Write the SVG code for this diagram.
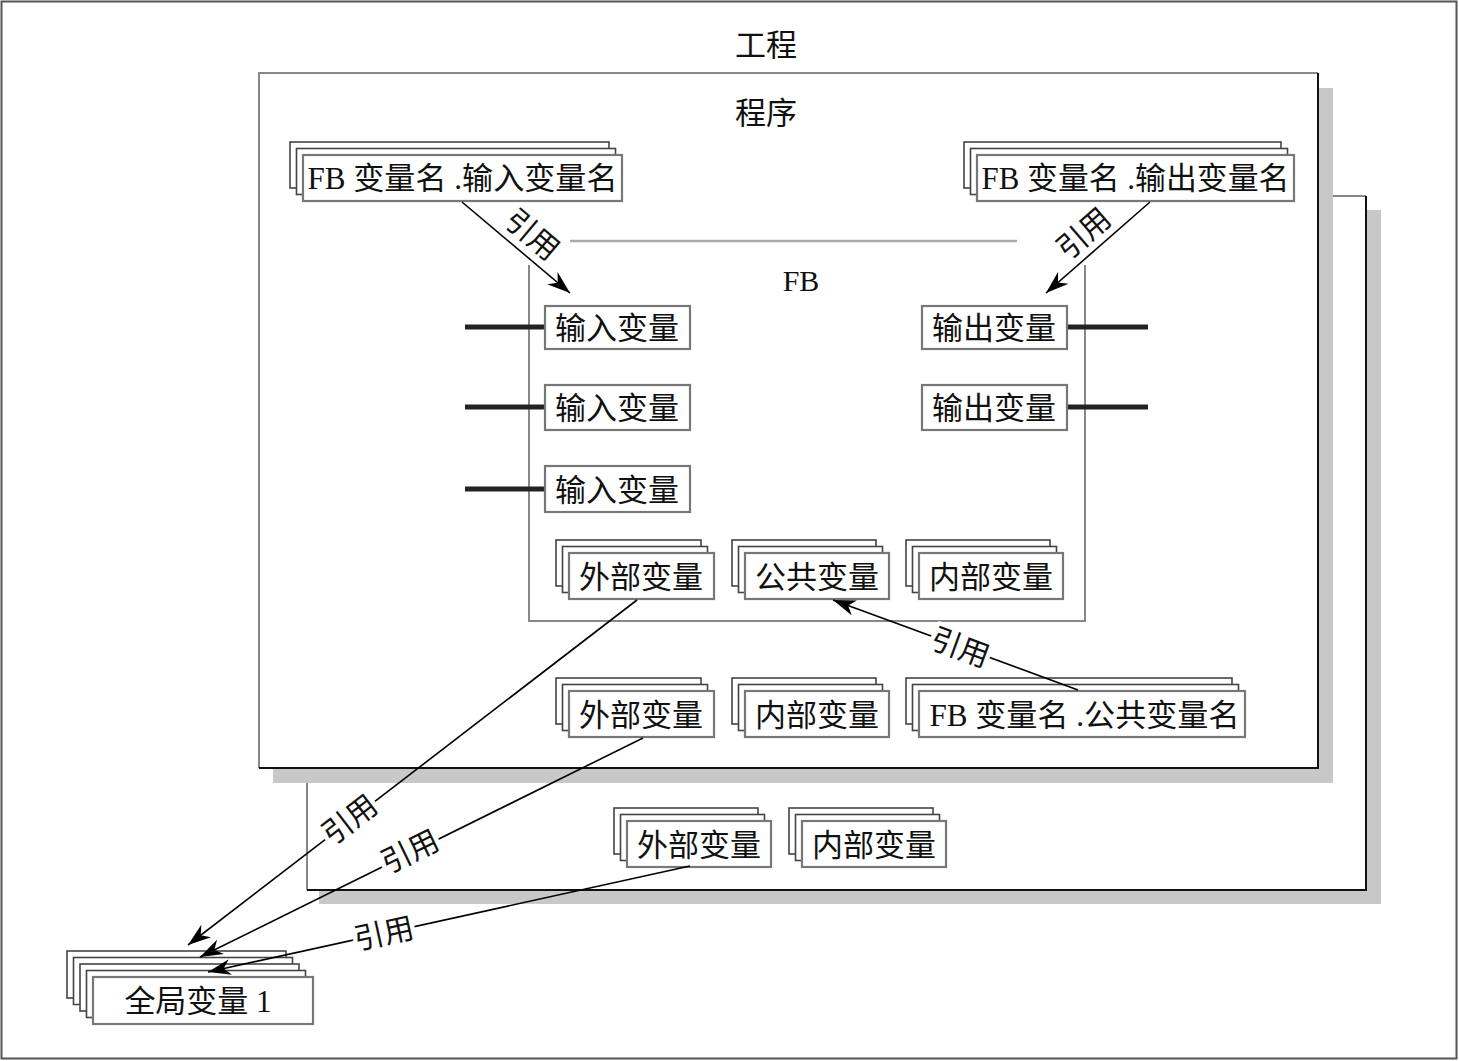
<svg xmlns="http://www.w3.org/2000/svg" width="1459" height="1061" viewBox="0 0 1459 1061">
<style>
text{font-family:"Liberation Serif","Noto Sans CJK SC",serif;fill:#111}
.t{font-size:31px;text-anchor:middle}
.lab{font-size:30px;text-anchor:middle;stroke:#fff;stroke-width:9px;paint-order:stroke;stroke-linejoin:round}
.back{fill:#fff;stroke:#444;stroke-width:1.6}
.front{fill:#fff;stroke:#777;stroke-width:2.2}
.shadow{fill:#c8c8c8}
.gl{stroke:#888;stroke-width:2;fill:none}
.bk{stroke:#111;stroke-width:2;fill:none}
.pin{stroke:#222;stroke-width:5}
.con{stroke:#000;stroke-width:1.6;fill:none}
</style>
<defs>
<marker id="ah" markerUnits="userSpaceOnUse" markerWidth="26" markerHeight="16" refX="23" refY="8" orient="auto">
<path d="M0,0 L23,8 L0,16 L7,8 z" fill="#000"/>
</marker>
</defs>
<rect width="1459" height="1061" fill="#fff"/>
<g id="project">
<rect x="1.5" y="1.5" width="1455" height="1057" fill="none" stroke="#555" stroke-width="2"/>
<text class="t" x="766" y="56">工程</text>
</g>
<g id="program2">
<rect class="shadow" x="319" y="210" width="1062" height="694"/>
<rect x="307" y="196" width="1059" height="694" fill="#fff"/>
<path class="gl" d="M307,890 V196 H1366"/>
<path class="bk" d="M1366,196 V890 H307"/>
</g>
<g id="program1">
<rect class="shadow" x="273" y="88" width="1060" height="695"/>
<rect x="259" y="73" width="1059" height="695" fill="#fff"/>
<path class="gl" d="M259,768 V73 H1318"/>
<path class="bk" d="M1318,73 V768 H259"/>
<text class="t" x="766" y="124">程序</text>
</g>
<g id="fb">
<path d="M529,265 V621 H1085 V265" fill="none" stroke="#888" stroke-width="2"/>
<line x1="570" y1="241" x2="1017" y2="241" stroke="#aaa" stroke-width="2.5"/>
<text x="801" y="291" style="font-size:30px;text-anchor:middle">FB</text>
</g>
<g id="fb-in-name">
<rect class="back" x="290" y="142" width="319" height="46"/>
<rect class="back" x="296.5" y="148.5" width="319" height="46"/>
<rect class="front" x="303" y="155" width="319" height="46"/>
<text class="t" x="462.5" y="189" textLength="310" lengthAdjust="spacingAndGlyphs">FB 变量名 .输入变量名</text>
</g>
<g id="fb-out-name">
<rect class="back" x="964" y="142" width="317" height="46"/>
<rect class="back" x="970.5" y="148.5" width="317" height="46"/>
<rect class="front" x="977" y="155" width="317" height="46"/>
<text class="t" x="1135.5" y="189" textLength="308" lengthAdjust="spacingAndGlyphs">FB 变量名 .输出变量名</text>
</g>
<g id="in1">
<line class="pin" x1="465" y1="327" x2="545" y2="327"/>
<rect class="front" x="545" y="306" width="145" height="43"/>
<text class="t" x="617" y="339">输入变量</text>
</g>
<g id="in2">
<line class="pin" x1="465" y1="407" x2="545" y2="407"/>
<rect class="front" x="545" y="385" width="145" height="45"/>
<text class="t" x="617" y="419">输入变量</text>
</g>
<g id="in3">
<line class="pin" x1="465" y1="489" x2="545" y2="489"/>
<rect class="front" x="545" y="466" width="145" height="46"/>
<text class="t" x="617" y="501">输入变量</text>
</g>
<g id="out1">
<line class="pin" x1="1067" y1="327" x2="1148" y2="327"/>
<rect class="front" x="922" y="306" width="145" height="43"/>
<text class="t" x="994" y="339">输出变量</text>
</g>
<g id="out2">
<line class="pin" x1="1067" y1="407" x2="1148" y2="407"/>
<rect class="front" x="922" y="385" width="145" height="45"/>
<text class="t" x="994" y="419">输出变量</text>
</g>
<g id="fb-ext">
<rect class="back" x="556" y="540" width="145" height="46"/>
<rect class="back" x="562.5" y="546.5" width="145" height="46"/>
<rect class="front" x="569" y="553" width="145" height="46"/>
<text class="t" x="641" y="588">外部变量</text>
</g>
<g id="fb-pub">
<rect class="back" x="732" y="540" width="144" height="46"/>
<rect class="back" x="738.5" y="546.5" width="144" height="46"/>
<rect class="front" x="745" y="553" width="144" height="46"/>
<text class="t" x="817" y="588">公共变量</text>
</g>
<g id="fb-int">
<rect class="back" x="906" y="540" width="144" height="46"/>
<rect class="back" x="912.5" y="546.5" width="144" height="46"/>
<rect class="front" x="919" y="553" width="144" height="46"/>
<text class="t" x="991" y="588">内部变量</text>
</g>
<g id="prog-ext">
<rect class="back" x="556" y="678" width="145" height="46"/>
<rect class="back" x="562.5" y="684.5" width="145" height="46"/>
<rect class="front" x="569" y="691" width="145" height="46"/>
<text class="t" x="641" y="726">外部变量</text>
</g>
<g id="prog-int">
<rect class="back" x="732" y="678" width="144" height="46"/>
<rect class="back" x="738.5" y="684.5" width="144" height="46"/>
<rect class="front" x="745" y="691" width="144" height="46"/>
<text class="t" x="817" y="726">内部变量</text>
</g>
<g id="fb-pub-name">
<rect class="back" x="906" y="678" width="326" height="46"/>
<rect class="back" x="912.5" y="684.5" width="326" height="46"/>
<rect class="front" x="919" y="691" width="326" height="46"/>
<text class="t" x="1084.5" y="726" textLength="310" lengthAdjust="spacingAndGlyphs">FB 变量名 .公共变量名</text>
</g>
<g id="prog2-ext">
<rect class="back" x="614" y="808" width="144" height="46"/>
<rect class="back" x="620.5" y="814.5" width="144" height="46"/>
<rect class="front" x="627" y="821" width="144" height="46"/>
<text class="t" x="699" y="856">外部变量</text>
</g>
<g id="prog2-int">
<rect class="back" x="789" y="808" width="144" height="46"/>
<rect class="back" x="795.5" y="814.5" width="144" height="46"/>
<rect class="front" x="802" y="821" width="144" height="46"/>
<text class="t" x="874" y="856">内部变量</text>
</g>
<g id="global">
<rect class="back" x="67" y="951" width="219" height="47"/>
<rect class="back" x="73.5" y="957.5" width="219" height="47"/>
<rect class="back" x="80" y="964" width="219" height="47"/>
<rect class="back" x="86.5" y="970.5" width="219" height="47"/>
<rect class="front" x="93" y="977" width="220" height="47"/>
<text class="t" x="198" y="1012">全局变量 1</text>
</g>
<g id="connectors">
<line class="con" x1="462" y1="202" x2="570" y2="293" marker-end="url(#ah)"/>
<line class="con" x1="1150" y1="202" x2="1046" y2="293" marker-end="url(#ah)"/>
<line class="con" x1="1078" y1="690" x2="833" y2="600" marker-end="url(#ah)"/>
<line class="con" x1="637" y1="600" x2="188" y2="945" marker-end="url(#ah)"/>
<line class="con" x1="643" y1="738" x2="200" y2="957" marker-end="url(#ah)"/>
<line class="con" x1="690" y1="866" x2="208" y2="972" marker-end="url(#ah)"/>
<text class="lab" transform="translate(532,235) rotate(40)" y="10">引用</text>
<text class="lab" transform="translate(1084,234) rotate(-41)" y="10">引用</text>
<text class="lab" transform="translate(960,648) rotate(20)" y="10">引用</text>
<text class="lab" transform="translate(350,820) rotate(-37.5)" y="10">引用</text>
<text class="lab" transform="translate(410,852) rotate(-26)" y="10">引用</text>
<text class="lab" transform="translate(384,934) rotate(-12.4)" y="10">引用</text>
</g>
</svg>
